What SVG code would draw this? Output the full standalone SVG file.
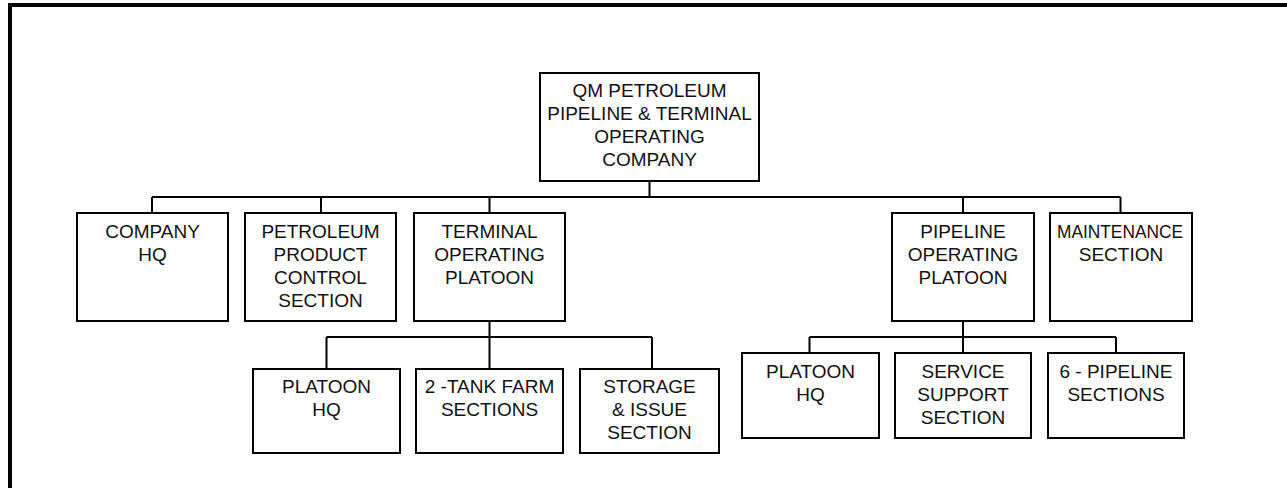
<svg xmlns="http://www.w3.org/2000/svg" width="1287" height="488" viewBox="0 0 1287 488">
<style>
.box{fill:#fff;stroke:#000;stroke-width:2}
.ln{fill:none;stroke:#000;stroke-width:2}
text{font-family:"Liberation Sans",Arial,sans-serif;font-size:19px;fill:#111;text-anchor:middle}
</style>
<rect width="1287" height="488" fill="#fff"/>
<path d="M10,488 V5 H1287" fill="none" stroke="#000" stroke-width="4"/>
<g id="connectors" class="ln">
<path class="ln" d="M649.5,181 V197 M152,197 H1120.5 M152,197 V213 M321,197 V213 M489.5,197 V213 M963,197 V213 M1120.5,197 V213"/>
<path class="ln" d="M489.5,322 V337 M326.5,337 H652 M326.5,337 V369 M489.5,337 V369 M652,337 V369"/>
<path class="ln" d="M963,322 V337 M809.5,337 H1116 M809.5,337 V353 M963,337 V353 M1116,337 V353"/>
</g>
<g id="company">
<rect class="box" x="540" y="73" width="219" height="108"/>
<text x="649.5" y="97">QM PETROLEUM</text>
<text x="649.5" y="120">PIPELINE &amp; TERMINAL</text>
<text x="649.5" y="143">OPERATING</text>
<text x="649.5" y="166">COMPANY</text>
</g>
<g id="company-hq">
<rect class="box" x="77" y="213" width="151" height="108"/>
<text x="152.5" y="238">COMPANY</text>
<text x="152.5" y="261">HQ</text>
</g>
<g id="ppc-section">
<rect class="box" x="245" y="213" width="151" height="108"/>
<text x="320.5" y="238">PETROLEUM</text>
<text x="320.5" y="261">PRODUCT</text>
<text x="320.5" y="284">CONTROL</text>
<text x="320.5" y="307">SECTION</text>
</g>
<g id="terminal-platoon">
<rect class="box" x="414" y="213" width="151" height="108"/>
<text x="489.5" y="238">TERMINAL</text>
<text x="489.5" y="261">OPERATING</text>
<text x="489.5" y="284">PLATOON</text>
</g>
<g id="pipeline-platoon">
<rect class="box" x="892" y="213" width="142" height="108"/>
<text x="963" y="238">PIPELINE</text>
<text x="963" y="261">OPERATING</text>
<text x="963" y="284">PLATOON</text>
</g>
<g id="maintenance">
<rect class="box" x="1050" y="213" width="142" height="108"/>
<text x="1120" y="238" textLength="126" lengthAdjust="spacingAndGlyphs">MAINTENANCE</text>
<text x="1121" y="261">SECTION</text>
</g>
<g id="t-platoon-hq">
<rect class="box" x="253" y="369" width="147" height="84"/>
<text x="326.5" y="393">PLATOON</text>
<text x="326.5" y="416">HQ</text>
</g>
<g id="tank-farm">
<rect class="box" x="416" y="369" width="147" height="84"/>
<text x="489.5" y="393">2 -TANK FARM</text>
<text x="489.5" y="416">SECTIONS</text>
</g>
<g id="storage-issue">
<rect class="box" x="580" y="369" width="139" height="84"/>
<text x="649.5" y="393">STORAGE</text>
<text x="649.5" y="416">&amp; ISSUE</text>
<text x="649.5" y="439">SECTION</text>
</g>
<g id="p-platoon-hq">
<rect class="box" x="742" y="353" width="137" height="85"/>
<text x="810.5" y="378">PLATOON</text>
<text x="810.5" y="401">HQ</text>
</g>
<g id="service-support">
<rect class="box" x="895" y="353" width="136" height="85"/>
<text x="963" y="378">SERVICE</text>
<text x="963" y="401">SUPPORT</text>
<text x="963" y="424">SECTION</text>
</g>
<g id="pipeline-sections">
<rect class="box" x="1048" y="353" width="136" height="85"/>
<text x="1116" y="378">6 - PIPELINE</text>
<text x="1116" y="401">SECTIONS</text>
</g>
</svg>
